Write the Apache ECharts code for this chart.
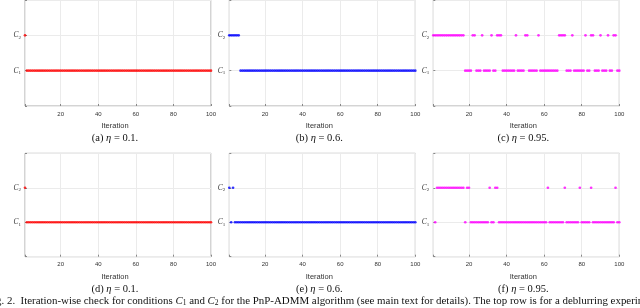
<!DOCTYPE html>
<html><head><meta charset="utf-8">
<script src="https://cdn.jsdelivr.net/npm/echarts@6/dist/echarts.min.js"></script>
<style>html,body{margin:0;padding:0;background:#fff}#c{width:640px;height:308px}</style>
</head><body><div id="c"></div>
<script>
// ---------- data (iteration numbers at which each condition holds) ----------
const xTickLabels = [20, 40, 60, 80, 100];
const yTickLabels = ['C1', 'C2'];
const panelLetters = ['(a)', '(b)', '(c)', '(d)', '(e)', '(f)'];
const etaValues = ['0.1', '0.6', '0.95', '0.1', '0.6', '0.95'];
const panelColors = ['#ff0000', '#0000ff', '#ff00ff', '#ff0000', '#0000ff', '#ff00ff'];

const a_C1 = [2,3,4,5,6,7,8,9,10,11,12,13,14,15,16,17,18,19,20,21,22,23,24,25,26,27,28,29,30,31,32,33,34,35,36,37,38,39,40,41,42,43,44,45,46,47,48,49,50,51,52,53,54,55,56,57,58,59,60,61,62,63,64,65,66,67,68,69,70,71,72,73,74,75,76,77,78,79,80,81,82,83,84,85,86,87,88,89,90,91,92,93,94,95,96,97,98,99,100];
const a_C2 = [1];

const b_C1 = [7,8,9,10,11,12,13,14,15,16,17,18,19,20,21,22,23,24,25,26,27,28,29,30,31,32,33,34,35,36,37,38,39,40,41,42,43,44,45,46,47,48,49,50,51,52,53,54,55,56,57,58,59,60,61,62,63,64,65,66,67,68,69,70,71,72,73,74,75,76,77,78,79,80,81,82,83,84,85,86,87,88,89,90,91,92,93,94,95,96,97,98,99,100];
const b_C2 = [1,2,3,4,5,6];

const c_C1 = [18,19,20,21,24,25,26,28,29,30,31,33,34,38,39,40,41,42,43,44,46,47,48,49,52,53,54,55,56,58,59,60,61,62,63,64,65,66,67,72,73,74,76,77,78,79,80,81,83,84,87,88,89,91,92,93,95,96,99,100];
const c_C2 = [1,2,3,4,5,6,7,8,9,10,11,12,13,14,15,16,17,22,23,27,32,35,36,37,45,50,51,57,68,69,70,71,75,82,85,86,90,94,97,98];

const d_C1 = [2,3,4,5,6,7,8,9,10,11,12,13,14,15,16,17,18,19,20,21,22,23,24,25,26,27,28,29,30,31,32,33,34,35,36,37,38,39,40,41,42,43,44,45,46,47,48,49,50,51,52,53,54,55,56,57,58,59,60,61,62,63,64,65,66,67,68,69,70,71,72,73,74,75,76,77,78,79,80,81,82,83,84,85,86,87,88,89,90,91,92,93,94,95,96,97,98,99,100];
const d_C2 = [1];

const e_C1 = [2,4,5,6,7,8,9,10,11,12,13,14,15,16,17,18,19,20,21,22,23,24,25,26,27,28,29,30,31,32,33,34,35,36,37,38,39,40,41,42,43,44,45,46,47,48,49,50,51,52,53,54,55,56,57,58,59,60,61,62,63,64,65,66,67,68,69,70,71,72,73,74,75,76,77,78,79,80,81,82,83,84,85,86,87,88,89,90,91,92,93,94,95,96,97,98,99,100];
const e_C2 = [1,3];

const f_C1 = [2,18,21,22,23,24,25,26,27,28,29,30,32,33,36,37,38,39,40,41,42,43,44,45,46,47,48,49,50,51,52,53,54,55,56,57,58,59,60,61,63,64,65,66,67,68,69,70,72,73,74,75,76,77,78,80,81,82,83,84,86,87,88,89,90,91,92,93,94,95,96,97,99,100];
const f_C2 = [3,4,5,6,7,8,9,10,11,12,13,14,15,16,17,19,20,31,34,35,62,71,79,85,98];

const panelsC1 = [a_C1, b_C1, c_C1, d_C1, e_C1, f_C1];
const panelsC2 = [a_C2, b_C2, c_C2, d_C2, e_C2, f_C2];

// ---------- layout ----------
const colLeft = [25, 229.3, 433.3];
const plotW = 186;
const rowTop = [0, 153.3];
const rowH = [106, 103.4];

const chart = echarts.init(document.getElementById('c'), null, {renderer: 'canvas'});
const grids = [], xAxes = [], yAxes = [], series = [], graphics = [];
const serif = 'Liberation Serif';

for (let p = 0; p < 6; p++) {
  const r = Math.floor(p / 3), col = p % 3;
  grids.push({left: colLeft[col], top: rowTop[r], width: plotW, height: rowH[r],
    show: true, borderColor: '#a8a8a8', borderWidth: 1, backgroundColor: 'transparent'});
  xAxes.push({type: 'value', gridIndex: p, min: 1, max: 100, splitNumber: 5,
    axisLine: {show: false},
    axisTick: {show: true, inside: true, length: 2, lineStyle: {color: '#888'}},
    splitLine: {show: true, lineStyle: {color: '#ebebeb', width: 1}},
    axisLabel: {margin: 5, fontSize: 6, fontFamily: 'Liberation Sans', color: '#333',
      formatter: v => xTickLabels.indexOf(v) >= 0 ? String(v) : ''}
  });
  yAxes.push({type: 'value', gridIndex: p, min: 0, max: 3, interval: 1,
    axisLine: {show: false},
    axisTick: {show: true, inside: true, length: 2, lineStyle: {color: '#888'}},
    splitLine: {show: true, lineStyle: {color: '#ebebeb', width: 1}},
    axisLabel: {margin: 4,
      formatter: v => (v === 1 || v === 2) ? '{c|C}{s|' + yTickLabels[v - 1].slice(1) + '}' : '',
      rich: {
        c: {fontFamily: serif, fontStyle: 'italic', fontSize: 7.5, color: '#333'},
        s: {fontFamily: serif, fontSize: 5, color: '#333', padding: [4, 0, 0, 0]}
      }}
  });
  const col_ = panelColors[p];
  series.push({type: 'scatter', xAxisIndex: p, yAxisIndex: p, symbol: 'circle', symbolSize: 2.7,
    itemStyle: {color: col_}, silent: true, animation: false,
    data: panelsC1[p].map(i => [i, 1])});
  series.push({type: 'scatter', xAxisIndex: p, yAxisIndex: p, symbol: 'circle', symbolSize: 2.7,
    itemStyle: {color: col_}, silent: true, animation: false,
    data: panelsC2[p].map(i => [i, 2])});

  const cx = colLeft[col] + plotW / 2 - 3;
  const bottom = rowTop[r] + rowH[r];
  graphics.push({type: 'text', x: cx, y: bottom + 20, silent: true,
    style: {text: 'Iteration', fill: '#333', font: '7.5px "Liberation Sans"', align: 'center', verticalAlign: 'middle'}});
  graphics.push({type: 'text', x: cx, y: bottom + 32.5, silent: true,
    style: {text: panelLetters[p] + ' {e|η} = ' + etaValues[p] + '.', fill: '#111',
      font: '10.5px "Liberation Serif"', align: 'center', verticalAlign: 'middle',
      rich: {e: {fontFamily: serif, fontStyle: 'italic', fontSize: 10.5, fill: '#111'}}}});
}

graphics.push({type: 'text', x: -13, y: 301.5, silent: true,
  style: {text: 'Fig. 2.  Iteration-wise check for conditions {i|C}{s|1} and {i|C}{s|2} for the PnP-ADMM algorithm (see main text for details). The top row is for a deblurring experiment',
    fill: '#111', font: '10.9px "Liberation Serif"', align: 'left', verticalAlign: 'middle',
    rich: {i: {fontFamily: serif, fontStyle: 'italic', fontSize: 10.9, fill: '#111'},
           s: {fontFamily: serif, fontSize: 7.5, fill: '#111', padding: [4, 0, 0, 0]}}}});

chart.setOption({animation: false, grid: grids, xAxis: xAxes, yAxis: yAxes, series: series, graphic: graphics});
</script></body></html>
